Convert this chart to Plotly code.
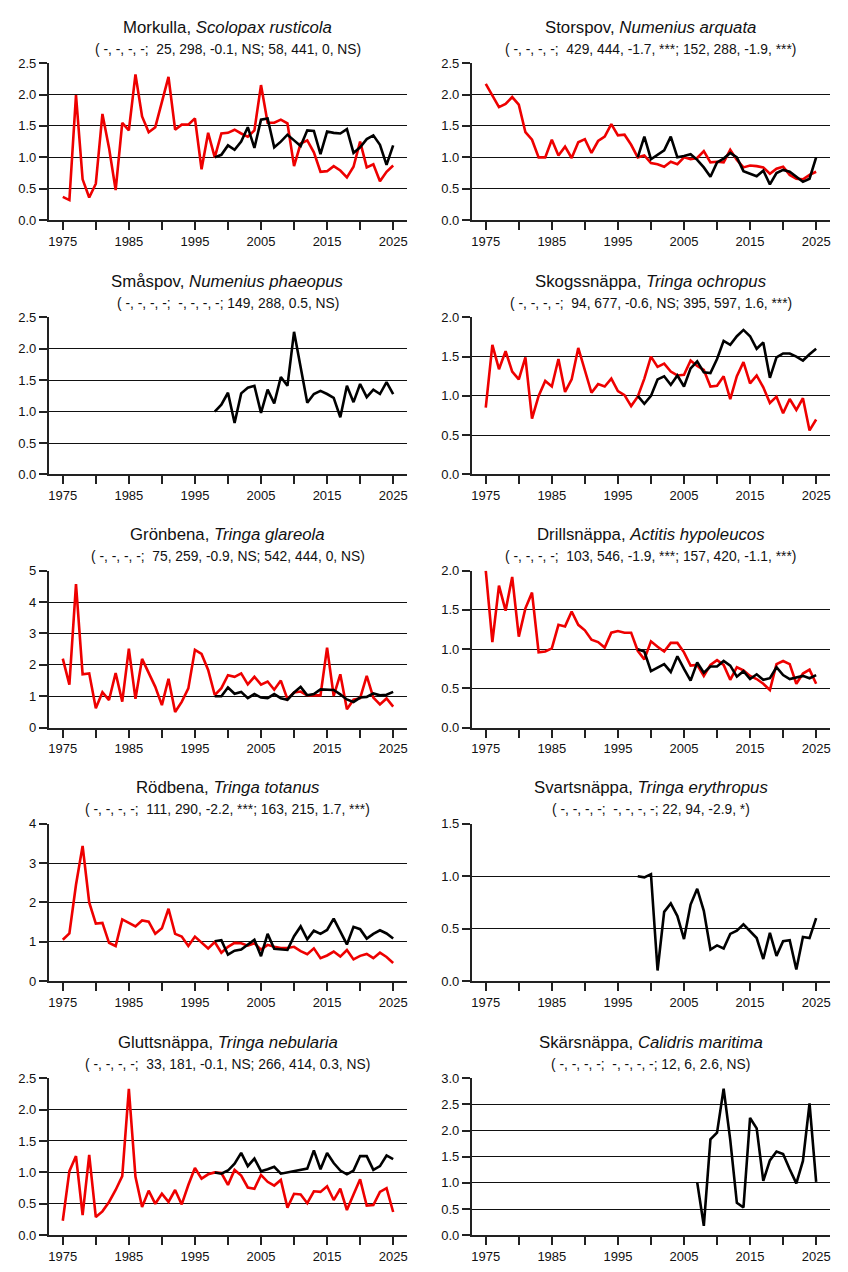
import plotly.graph_objects as go

# page is 848x1272; browser body margin (8px) surrounds the figure
PAGE_W, PAGE_H = 848, 1272
OFF = 8
W, H = PAGE_W - 2 * OFF, PAGE_H - 2 * OFF

years_red = list(range(1975, 2026))
years_black = list(range(1998, 2026))
years_skars = list(range(2007, 2026))

names = [
    "Morkulla, <i>Scolopax rusticola</i>",
    "Storspov, <i>Numenius arquata</i>",
    "Småspov, <i>Numenius phaeopus</i>",
    "Skogssnäppa, <i>Tringa ochropus</i>",
    "Grönbena, <i>Tringa glareola</i>",
    "Drillsnäppa, <i>Actitis hypoleucos</i>",
    "Rödbena, <i>Tringa totanus</i>",
    "Svartsnäppa, <i>Tringa erythropus</i>",
    "Gluttsnäppa, <i>Tringa nebularia</i>",
    "Skärsnäppa, <i>Calidris maritima</i>",
]

stats = [
    "( -, -, -, -;\u00a0 25, 298, -0.1, NS; 58, 441, 0, NS)",
    "( -, -, -, -;\u00a0 429, 444, -1.7, ***; 152, 288, -1.9, ***)",
    "( -, -, -, -;\u00a0 -, -, -, -; 149, 288, 0.5, NS)",
    "( -, -, -, -;\u00a0 94, 677, -0.6, NS; 395, 597, 1.6, ***)",
    "( -, -, -, -;\u00a0 75, 259, -0.9, NS; 542, 444, 0, NS)",
    "( -, -, -, -;\u00a0 103, 546, -1.9, ***; 157, 420, -1.1, ***)",
    "( -, -, -, -;\u00a0 111, 290, -2.2, ***; 163, 215, 1.7, ***)",
    "( -, -, -, -;\u00a0 -, -, -, -; 22, 94, -2.9, *)",
    "( -, -, -, -;\u00a0 33, 181, -0.1, NS; 266, 414, 0.3, NS)",
    "( -, -, -, -;\u00a0 -, -, -, -; 12, 6, 2.6, NS)",
]

# red series, 1975-2025
morkulla_red = [0.37, 0.32, 1.99, 0.65, 0.36, 0.58, 1.69, 1.15, 0.48, 1.55,
                1.43, 2.32, 1.65, 1.40, 1.48, 1.88, 2.28, 1.44, 1.52, 1.52,
                1.62, 0.81, 1.39, 1.00, 1.38, 1.39, 1.44, 1.38, 1.33, 1.43,
                2.15, 1.55, 1.55, 1.60, 1.54, 0.86, 1.22, 1.27, 1.08, 0.77,
                0.78, 0.86, 0.79, 0.68, 0.85, 1.25, 0.84, 0.89, 0.62, 0.77, 0.87]
storspov_red = [2.17, 1.98, 1.80, 1.85, 1.96, 1.84, 1.40, 1.28, 1.00, 1.00,
                1.28, 1.03, 1.17, 0.99, 1.24, 1.29, 1.07, 1.26, 1.33, 1.53,
                1.35, 1.36, 1.20, 1.00, 1.03, 0.91, 0.89, 0.85, 0.93, 0.89,
                1.00, 0.97, 0.99, 1.10, 0.92, 0.93, 0.92, 1.12, 0.96, 0.84,
                0.87, 0.86, 0.84, 0.74, 0.82, 0.85, 0.72, 0.66, 0.65, 0.72, 0.77]
skogs_red = [0.85, 1.65, 1.34, 1.57, 1.31, 1.21, 1.49, 0.71, 1.00, 1.19,
             1.12, 1.47, 1.05, 1.21, 1.61, 1.32, 1.04, 1.15, 1.12, 1.22,
             1.06, 1.01, 0.87, 0.99, 1.22, 1.50, 1.37, 1.41, 1.31, 1.26,
             1.27, 1.45, 1.38, 1.33, 1.12, 1.13, 1.25, 0.96, 1.25, 1.43,
             1.16, 1.26, 1.11, 0.91, 0.99, 0.78, 0.96, 0.82, 0.97, 0.56, 0.70]
gronbena_red = [2.20, 1.37, 4.57, 1.70, 1.73, 0.62, 1.13, 0.88, 1.74, 0.83,
                2.52, 0.92, 2.19, 1.75, 1.30, 0.72, 1.56, 0.50, 0.82, 1.25,
                2.48, 2.35, 1.84, 1.04, 1.26, 1.67, 1.62, 1.73, 1.38, 1.62,
                1.37, 1.47, 1.21, 1.50, 0.91, 1.12, 1.15, 1.03, 1.02, 1.03,
                2.55, 1.01, 1.70, 0.59, 0.89, 0.94, 1.65, 0.96, 0.74, 0.93, 0.67]
drill_red = [2.00, 1.09, 1.81, 1.49, 1.92, 1.16, 1.52, 1.72, 0.96, 0.97,
             1.01, 1.31, 1.29, 1.48, 1.31, 1.24, 1.12, 1.09, 1.02, 1.21,
             1.23, 1.21, 1.21, 0.98, 0.87, 1.10, 1.03, 0.97, 1.08, 1.08,
             0.96, 0.79, 0.80, 0.66, 0.80, 0.86, 0.80, 0.61, 0.77, 0.73,
             0.66, 0.62, 0.56, 0.48, 0.81, 0.85, 0.81, 0.56, 0.69, 0.74, 0.56]
rodbena_red = [1.05, 1.21, 2.45, 3.44, 2.00, 1.46, 1.48, 0.97, 0.89, 1.57,
               1.48, 1.39, 1.54, 1.51, 1.20, 1.34, 1.84, 1.20, 1.13, 0.89,
               1.13, 0.97, 0.83, 0.99, 0.72, 0.87, 0.97, 0.96, 0.90, 0.96,
               0.80, 0.92, 0.87, 0.84, 0.84, 0.87, 0.76, 0.68, 0.83, 0.58,
               0.65, 0.75, 0.62, 0.79, 0.55, 0.64, 0.69, 0.58, 0.72, 0.61, 0.46]
glutt_red = [0.23, 1.02, 1.26, 0.32, 1.28, 0.29, 0.38, 0.53, 0.72, 0.94,
             2.33, 0.93, 0.45, 0.71, 0.50, 0.66, 0.53, 0.72, 0.49, 0.80,
             1.07, 0.90, 0.97, 1.00, 0.99, 0.80, 1.04, 0.95, 0.76, 0.74,
             0.96, 0.85, 0.79, 0.88, 0.44, 0.66, 0.65, 0.51, 0.70, 0.69,
             0.78, 0.56, 0.74, 0.40, 0.65, 0.89, 0.47, 0.48, 0.69, 0.75, 0.37]

# black series, 1998-2025 (Skärsnäppa 2007-2025)
morkulla_black = [1.00, 1.04, 1.19, 1.12, 1.25, 1.48, 1.15, 1.60, 1.62, 1.16,
                  1.25, 1.36, 1.27, 1.18, 1.43, 1.42, 1.05, 1.41, 1.39, 1.38,
                  1.45, 1.07, 1.16, 1.29, 1.35, 1.20, 0.88, 1.19]
storspov_black = [1.00, 1.33, 0.97, 1.04, 1.11, 1.33, 1.00, 1.02, 1.05, 0.96,
                  0.84, 0.69, 0.92, 0.98, 1.07, 1.00, 0.78, 0.74, 0.70, 0.79,
                  0.57, 0.75, 0.80, 0.77, 0.69, 0.61, 0.66, 1.00]
smaspov_black = [1.00, 1.11, 1.30, 0.82, 1.29, 1.38, 1.41, 0.98, 1.35, 1.13,
                 1.55, 1.41, 2.27, 1.68, 1.14, 1.28, 1.33, 1.28, 1.22, 0.91,
                 1.41, 1.15, 1.44, 1.23, 1.35, 1.28, 1.47, 1.28]
skogs_black = [1.00, 0.90, 1.00, 1.21, 1.25, 1.14, 1.26, 1.12, 1.35, 1.44,
               1.30, 1.29, 1.47, 1.70, 1.65, 1.76, 1.84, 1.76, 1.60, 1.68,
               1.23, 1.49, 1.54, 1.54, 1.50, 1.45, 1.53, 1.60]
gronbena_black = [1.00, 1.00, 1.28, 1.08, 1.14, 0.94, 1.07, 0.96, 0.94, 1.07,
                  0.94, 0.89, 1.12, 1.30, 1.03, 1.07, 1.22, 1.20, 1.20, 1.06,
                  0.90, 0.82, 0.96, 0.98, 1.09, 1.03, 1.05, 1.14]
drill_black = [1.00, 0.97, 0.72, 0.76, 0.81, 0.71, 0.91, 0.75, 0.60, 0.83,
               0.70, 0.78, 0.78, 0.85, 0.79, 0.65, 0.72, 0.62, 0.68, 0.61,
               0.63, 0.77, 0.67, 0.62, 0.64, 0.66, 0.63, 0.67]
rodbena_black = [1.01, 1.04, 0.67, 0.77, 0.80, 0.92, 1.05, 0.63, 1.20, 0.82,
                 0.81, 0.79, 1.14, 1.39, 1.06, 1.28, 1.20, 1.30, 1.59, 1.24,
                 0.93, 1.38, 1.32, 1.08, 1.20, 1.29, 1.21, 1.08]
svarts_black = [1.00, 0.99, 1.02, 0.10, 0.66, 0.74, 0.62, 0.40, 0.73, 0.88,
                0.67, 0.30, 0.34, 0.31, 0.45, 0.48, 0.54, 0.47, 0.41, 0.21,
                0.46, 0.24, 0.38, 0.39, 0.11, 0.42, 0.41, 0.60]
glutt_black = [1.00, 0.98, 1.03, 1.14, 1.31, 1.10, 1.22, 1.02, 1.05, 1.09,
               0.98, 1.00, 1.02, 1.04, 1.06, 1.35, 1.05, 1.31, 1.15, 1.03,
               0.97, 1.03, 1.26, 1.26, 1.04, 1.10, 1.27, 1.21]
skars_black = [1.01, 0.18, 1.83, 1.96, 2.80, 1.82, 0.62, 0.53, 2.24, 2.04,
               1.04, 1.43, 1.60, 1.55, 1.26, 0.99, 1.42, 2.52, 1.02]

red_series = [morkulla_red, storspov_red, None, skogs_red, gronbena_red,
              drill_red, rodbena_red, None, glutt_red, None]
black_series = [(years_black, morkulla_black), (years_black, storspov_black),
                (years_black, smaspov_black), (years_black, skogs_black),
                (years_black, gronbena_black), (years_black, drill_black),
                (years_black, rodbena_black), (years_black, svarts_black),
                (years_black, glutt_black), (years_skars, skars_black)]

y_max = [2.5, 2.5, 2.5, 2.0, 5, 2.0, 4, 1.5, 2.5, 3.0]
y_step = [0.5, 0.5, 0.5, 0.5, 1, 0.5, 1, 0.5, 0.5, 0.5]
y_fmt = [".1f", ".1f", ".1f", ".1f", "d", ".1f", "d", ".1f", ".1f", ".1f"]

x_tickvals = list(range(1975, 2026, 5))
x_ticktext = [str(v) if (v - 1975) % 10 == 0 else "" for v in x_tickvals]

# layout geometry (page pixels)
col_x = [(48, 407), (472, 831)]
row_y = [(57, 217), (316, 476), (574, 734), (832, 992), (1091, 1251)]

FONT = "Arial, Liberation Sans, sans-serif"
fig = go.Figure()
layout = {}
annotations = []

for i in range(10):
    r, c = divmod(i, 2)
    n = i + 1
    xa = "x" if n == 1 else f"x{n}"
    ya = "y" if n == 1 else f"y{n}"
    x0, x1 = col_x[c]
    yt, yb = row_y[r]
    layout["xaxis" if n == 1 else f"xaxis{n}"] = dict(
        domain=[(x0 - OFF) / W, (x1 - OFF) / W], anchor=ya,
        range=[1972.9, 2027.1],
        tickvals=x_tickvals, ticktext=x_ticktext, ticks="outside", ticklen=8,
        tickwidth=1.5, tickcolor="#222", showline=True, linecolor="#222",
        linewidth=2, showgrid=False, zeroline=False,
        tickfont=dict(family=FONT, size=13, color="#111"),
    )
    ym = y_max[i]
    st = y_step[i]
    nt = int(round(ym / st))
    yvals = [k * st for k in range(nt + 1)]
    layout["yaxis" if n == 1 else f"yaxis{n}"] = dict(
        domain=[1 - (yb - OFF) / H, 1 - (yt - OFF) / H], anchor=xa,
        range=[0, ym],
        tickvals=yvals, tickformat=y_fmt[i], ticks="outside", ticklen=8,
        tickwidth=1.5, tickcolor="#222", showline=True, linecolor="#222",
        linewidth=2, showgrid=True, gridcolor="#111", gridwidth=1.2,
        zeroline=False, tickfont=dict(family=FONT, size=13, color="#111"),
    )
    if red_series[i] is not None:
        fig.add_trace(go.Scatter(x=years_red, y=red_series[i], mode="lines",
                                 line=dict(color="#ee0000", width=2.6),
                                 xaxis=xa, yaxis=ya, showlegend=False,
                                 hoverinfo="skip"))
    bx, by = black_series[i]
    fig.add_trace(go.Scatter(x=bx, y=by, mode="lines",
                             line=dict(color="black", width=2.6),
                             xaxis=xa, yaxis=ya, showlegend=False,
                             hoverinfo="skip"))
    dom = f"{xa} domain"
    ydom = f"{ya} domain"
    annotations.append(dict(text=names[i], xref=dom, yref=ydom, x=0.5, y=1,
                            xanchor="center", yanchor="middle", yshift=36,
                            showarrow=False,
                            font=dict(family=FONT, size=16.8, color="#111")))
    annotations.append(dict(text=stats[i], xref=dom, yref=ydom, x=0.5, y=1,
                            xanchor="center", yanchor="middle", yshift=14,
                            showarrow=False,
                            font=dict(family=FONT, size=13.8, color="#111")))

fig.update_layout(**layout)
fig.update_layout(width=W, height=H, margin=dict(l=0, r=0, t=0, b=0),
                  paper_bgcolor="white", plot_bgcolor="white",
                  annotations=annotations, showlegend=False)
fig.write_html("out.html", config={"displayModeBar": False})
